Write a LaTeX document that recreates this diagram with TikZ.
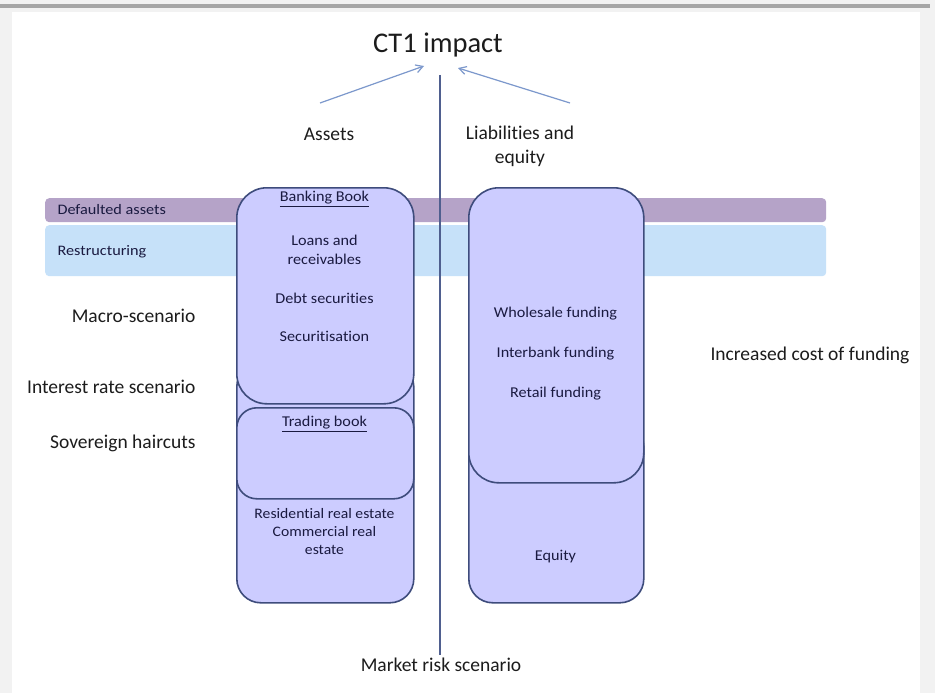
\documentclass[tikz,border=0pt]{standalone}
\usepackage{fontspec}
\setmainfont{Carlito}[Ligatures=NoCommon]
\newfontfamily\widefont{Carlito}[FakeStretch=1.08, Ligatures=NoCommon]
\newfontfamily\barfont{Carlito}[FakeStretch=1.12, Ligatures=NoCommon]
\usetikzlibrary{arrows.meta}
\definecolor{pagegray}{HTML}{F2F2F2}
\definecolor{rulegray}{HTML}{A6A6A6}
\definecolor{defaultbar}{HTML}{B5A3C8}
\definecolor{restructbar}{HTML}{C6E1F9}
\definecolor{boxfill}{HTML}{CCCCFF}
\definecolor{boxline}{HTML}{3E4C7C}
\definecolor{arrowblue}{HTML}{7C98CC}
\definecolor{axisline}{HTML}{4F5F8F}
\definecolor{labeltext}{HTML}{1C1C1C}
\definecolor{boxtext}{HTML}{1A1A40}
\tikzset{
  bar/.style={rounded corners=4pt, draw=none, anchor=north west, inner sep=0pt},
  barlabel/.style={anchor=west, font=\barfont\fontsize{14.5}{17}\selectfont, text=boxtext},
  book/.style={draw=boxline, line width=1.6pt, fill=boxfill, inner sep=0pt, anchor=north west},
  item/.style={font=\widefont\fontsize{15}{19}\selectfont, text=boxtext, align=center},
  side/.style={font=\fontsize{19.5}{24}\selectfont, text=labeltext},
  impact/.style={-{Straight Barb[length=7pt,width=8pt]}, arrowblue, line width=1.2pt},
}
\begin{document}
\begin{tikzpicture}[x=1pt,y=-1pt]
  % page frame
  \fill[pagegray] (0,0) rectangle (935,693);
  \fill[white] (12,12) rectangle (920,693);
  \fill[rulegray] (0,4) rectangle (930,8);
  \useasboundingbox (0,0) rectangle (935,693);

  % horizontal bands behind the books
  \node[bar, fill=defaultbar, minimum width=781pt, minimum height=24pt] (defbar) at (45,198) {};
  \node[bar, fill=restructbar, minimum width=781pt, minimum height=51pt] (resbar) at (45,225) {};
  \node[barlabel] (deflabel) at (54,210) {Defaulted assets};
  \node[barlabel] (reslabel) at (54,252) {Restructuring};

  % assets side
  \node[book, rounded corners=24pt, minimum width=177pt, minimum height=240pt] (realestate) at (236,362) {};
  \node[book, rounded corners=20pt, minimum width=177pt, minimum height=91pt] (trading) at (236,407) {};
  \node[book, rounded corners=30pt, minimum width=177pt, minimum height=216pt] (banking) at (236,187) {};

  % liabilities side
  \node[book, rounded corners=24pt, minimum width=175pt, minimum height=180pt] (equitybox) at (468,422) {};
  \node[book, rounded corners=30pt, minimum width=175pt, minimum height=295pt] (liabbox) at (468,187) {};

  % texts inside the books
  \node[item] (bbtitle) at (324.5,199) {\underline{Banking Book}};
  \node[item] (loans) at (324.5,250) {Loans and\\receivables};
  \node[item] (debt) at (324.5,298) {Debt securities};
  \node[item] (secur) at (324.5,336) {Securitisation};
  \node[item] (tbtitle) at (324.5,424) {\underline{Trading book}};
  \node[item, font=\widefont\fontsize{14.5}{18}\selectfont] (resre) at (324.5,532) {Residential real estate\\Commercial real\\estate};
  \node[item] (whole) at (555.5,314) {Wholesale funding};
  \node[item] (inter) at (555.5,354) {Interbank funding};
  \node[item] (retail) at (555.5,394) {Retail funding};
  \node[item] (equity) at (555.5,557) {Equity};

  % headings and scenario labels
  \node[font=\fontsize{28.5}{32}\selectfont, text=labeltext] (ct1) at (438,45) {CT1 impact};
  \node[side] (assets) at (329,134) {Assets};
  \node[side, align=center, font=\fontsize{19.5}{24}\selectfont] (liab) at (520,146) {Liabilities and\\equity};
  \node[side, anchor=east] (macro) at (199,316) {Macro-scenario};
  \node[side, anchor=east] (irate) at (199,387) {Interest rate scenario};
  \node[side, anchor=east] (sov) at (199,443) {Sovereign haircuts};
  \node[side, anchor=west] (cost) at (707,355) {Increased cost of funding};
  \node[side] (market) at (441,665) {Market risk scenario};

  % arrows into the CT1 impact and the dividing axis
  \coordinate (assetsfoot) at (320,103);
  \coordinate (assetshead) at (424,66);
  \coordinate (liabfoot) at (570,103);
  \coordinate (liabhead) at (458,68);
  \coordinate (axistop) at (440,75);
  \coordinate (axisbottom) at (440,655);
  \draw[impact] (assetsfoot) -- (assetshead);
  \draw[impact] (liabfoot) -- (liabhead);
  \draw[axisline, line width=1.3pt] (axistop) -- (axisbottom);
\end{tikzpicture}
\end{document}
